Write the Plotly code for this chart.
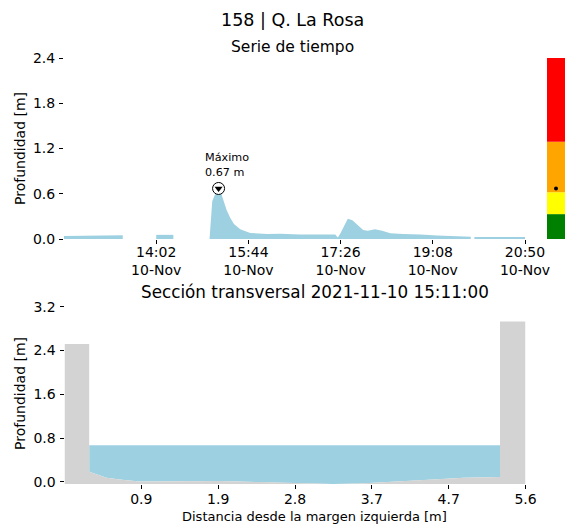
import plotly.graph_objects as go

# ---------------- data ----------------
day = "2021-11-10"
ts_times = ["12:20", "12:40", "13:00", "13:20", "13:25", "13:26",
            "14:02", "14:10", "14:21", "14:22",
            "15:01", "15:04", "15:08", "15:11", "15:14", "15:17", "15:20", "15:24",
            "15:28", "15:35", "15:46", "16:05", "16:19", "16:41", "17:03", "17:20",
            "17:23", "17:26", "17:31", "17:34", "17:39", "17:44", "17:51", "17:56",
            "18:04", "18:12", "18:21", "18:35", "18:54", "19:13", "19:33", "19:50",
            "19:52", "19:54", "20:20", "20:50"]
ts_depth = [0.04, 0.04, 0.045, 0.05, 0.05, None,
            0.055, 0.055, 0.055, None,
            0.0, 0.50, 0.62, 0.67, 0.60, 0.50, 0.38, 0.28,
            0.20, 0.13, 0.08, 0.065, 0.07, 0.06, 0.055, 0.06,
            0.02, 0.08, 0.20, 0.27, 0.25, 0.19, 0.12, 0.11,
            0.13, 0.11, 0.075, 0.065, 0.06, 0.045, 0.04, 0.03,
            None, 0.025, 0.025, 0.025]
time_ticks = ["14:02", "15:44", "17:26", "19:08", "20:50"]
time_range = ["12:20", "20:50"]
depth_ticks_top = [0.0, 0.6, 1.2, 1.8, 2.4]

# alert levels (color bar)
level_bottoms = [0.0, 0.33, 0.62, 1.29]
level_tops = [0.33, 0.62, 1.29, 2.4]
level_colors = ["#008000", "#FFFF00", "#FFA500", "#FF0000"]

# cross section profile (distance from left margin, elevation)
prof_x = [0.0, 0.30, 0.30, 0.51, 0.67, 0.91, 1.40, 1.89, 2.38, 2.74, 3.26, 3.59,
          3.84, 4.32, 4.85, 5.29, 5.29, 5.6]
prof_y = [2.52, 2.52, 0.185, 0.075, 0.04, 0.005, 0.01, 0.015, -0.005, -0.015, -0.04, -0.03,
          -0.01, 0.03, 0.075, 0.09, 2.93, 2.93]
dist_ticks = [0.933, 1.867, 2.8, 3.733, 4.667, 5.6]
depth_ticks_bot = [0.0, 0.8, 1.6, 2.4, 3.2]

# ---------------- derived ----------------
t_full = [f"{day} {t}" for t in ts_times]
valid = [(t, v) for t, v in zip(t_full, ts_depth) if v is not None]
peak_t, peak_v = max(valid, key=lambda p: p[1])
water_level = peak_v

segments = []
cur = []
for t, v in zip(t_full, ts_depth):
    if v is None:
        if cur:
            segments.append(cur)
        cur = []
    else:
        cur.append((t, v))
if cur:
    segments.append(cur)

bed_x = prof_x[2:-2]
bed_y = prof_y[2:-2]
ymin_bot = min(prof_y)

BLUE = "#9DD1E1"
GRAY = "#D3D3D3"
FONT = "DejaVu Sans"

fig = go.Figure()

for seg in segments:
    fig.add_trace(go.Scatter(x=[p[0] for p in seg], y=[p[1] for p in seg], mode="lines",
                             line=dict(width=0, color=BLUE), fill="tozeroy", fillcolor=BLUE,
                             xaxis="x", yaxis="y", showlegend=False))
fig.add_trace(go.Scatter(x=[peak_t], y=[peak_v], mode="markers",
                         marker=dict(symbol="circle", size=12, color="white",
                                     line=dict(color="black", width=1)),
                         xaxis="x", yaxis="y", showlegend=False))
fig.add_trace(go.Scatter(x=[peak_t], y=[peak_v], mode="markers",
                         marker=dict(symbol="triangle-down", size=7, color="black"),
                         xaxis="x", yaxis="y", showlegend=False))

for b, t, c in zip(level_bottoms, level_tops, level_colors):
    fig.add_trace(go.Bar(x=[0], y=[t - b], base=[b], width=1, marker=dict(color=c, line=dict(width=0)),
                         xaxis="x3", yaxis="y3", showlegend=False))
fig.add_trace(go.Scatter(x=[0], y=[peak_v], mode="markers", marker=dict(color="black", size=4),
                         xaxis="x3", yaxis="y3", showlegend=False))

gx = [prof_x[0]] + prof_x + [prof_x[-1], prof_x[0]]
gy = [ymin_bot] + prof_y + [ymin_bot, ymin_bot]
wx = [bed_x[0]] + [bed_x[-1]] + bed_x[::-1]
wy = [water_level, water_level] + bed_y[::-1]
fig.add_trace(go.Scatter(x=wx, y=wy, mode="lines", line=dict(width=0), fill="toself",
                         fillcolor=BLUE, xaxis="x2", yaxis="y2", showlegend=False))
fig.add_trace(go.Scatter(x=gx, y=gy, mode="lines", line=dict(width=0), fill="toself",
                         fillcolor=GRAY, xaxis="x2", yaxis="y2", showlegend=False))

W, H = 565, 524
def px(xp):
    return xp / W
def py(yp):
    return 1 - yp / H

tickfont = dict(family=FONT, size=14, color="black")
common_ax = dict(showgrid=False, zeroline=False, showline=False, ticks="outside", ticklen=4,
                 tickwidth=1, tickcolor="black", tickfont=tickfont, automargin=False)

fig.update_layout(
    template="none",
    width=W, height=H, autosize=False,
    margin=dict(l=0, r=0, t=0, b=0, pad=0),
    paper_bgcolor="white", plot_bgcolor="white",
    font=dict(family=FONT, color="black"),
    barmode="overlay",
    xaxis=dict(domain=[px(64), px(525)], anchor="y", type="date",
               range=[f"{day} {time_range[0]}", f"{day} {time_range[1]}"],
               tickmode="array", tickvals=[f"{day} {t}" for t in time_ticks],
               ticktext=[f"{t}<br>10-Nov" for t in time_ticks], ticklabelstandoff=-4, **common_ax),
    yaxis=dict(domain=[py(239), py(58)], anchor="x", range=[0, 2.4],
               tickmode="array", tickvals=depth_ticks_top,
               ticktext=[f"{v:.1f}" for v in depth_ticks_top], ticklabelstandoff=1, **common_ax),
    xaxis3=dict(domain=[px(547), 1.0], anchor="y3", range=[-0.5, 0.5], visible=False, automargin=False),
    yaxis3=dict(domain=[py(239), py(58)], anchor="x3", range=[0, 2.4], visible=False, automargin=False),
    xaxis2=dict(domain=[px(64.5), px(525.5)], anchor="y2", range=[0, 5.6],
                tickmode="array", tickvals=dist_ticks,
                ticktext=[f"{v:.1f}" for v in dist_ticks], ticklabelstandoff=-2, **common_ax),
    yaxis2=dict(domain=[py(484), py(306.7)], anchor="x2", range=[ymin_bot, 3.2],
                tickmode="array", tickvals=depth_ticks_bot,
                ticktext=[f"{v:.1f}" for v in depth_ticks_bot], ticklabelstandoff=1, **common_ax),
)

ann = [
    dict(text="158 | Q. La Rosa", x=px(292), y=py(20), xref="paper", yref="paper",
         showarrow=False, font=dict(family=FONT, size=17.5, color="black"), xanchor="center", yanchor="middle"),
    dict(text="Serie de tiempo", x=px(292), y=py(47), xref="paper", yref="paper",
         showarrow=False, font=dict(family=FONT, size=15.5, color="black"), xanchor="center", yanchor="middle"),
    dict(text=f"Sección transversal {day} {peak_t.split(' ')[1]}:00", x=px(315), y=py(291.5),
         xref="paper", yref="paper", showarrow=False,
         font=dict(family=FONT, size=16.8, color="black"), xanchor="center", yanchor="middle"),
    dict(text="Profundidad [m]", x=px(20), y=py(149), xref="paper", yref="paper", textangle=-90,
         showarrow=False, font=dict(family=FONT, size=14, color="black"), xanchor="center", yanchor="middle"),
    dict(text="Profundidad [m]", x=px(20), y=py(394), xref="paper", yref="paper", textangle=-90,
         showarrow=False, font=dict(family=FONT, size=14, color="black"), xanchor="center", yanchor="middle"),
    dict(text="Distancia desde la margen izquierda [m]", x=px(314.5), y=py(516), xref="paper", yref="paper",
         showarrow=False, font=dict(family=FONT, size=13, color="black"), xanchor="center", yanchor="middle"),
    dict(text=f"Máximo<br>{peak_v:.2f} m", x=peak_t, y=peak_v, xref="x", yref="y",
         showarrow=False, align="left", xanchor="left", yanchor="bottom", xshift=-16, yshift=7,
         font=dict(family=FONT, size=11.2, color="black")),
]
fig.update_layout(annotations=ann)

fig.write_html("out.html", config={"displayModeBar": False},
               post_script="document.body.style.margin='0';document.body.style.padding='0';"
                           "document.body.style.overflow='hidden';")
